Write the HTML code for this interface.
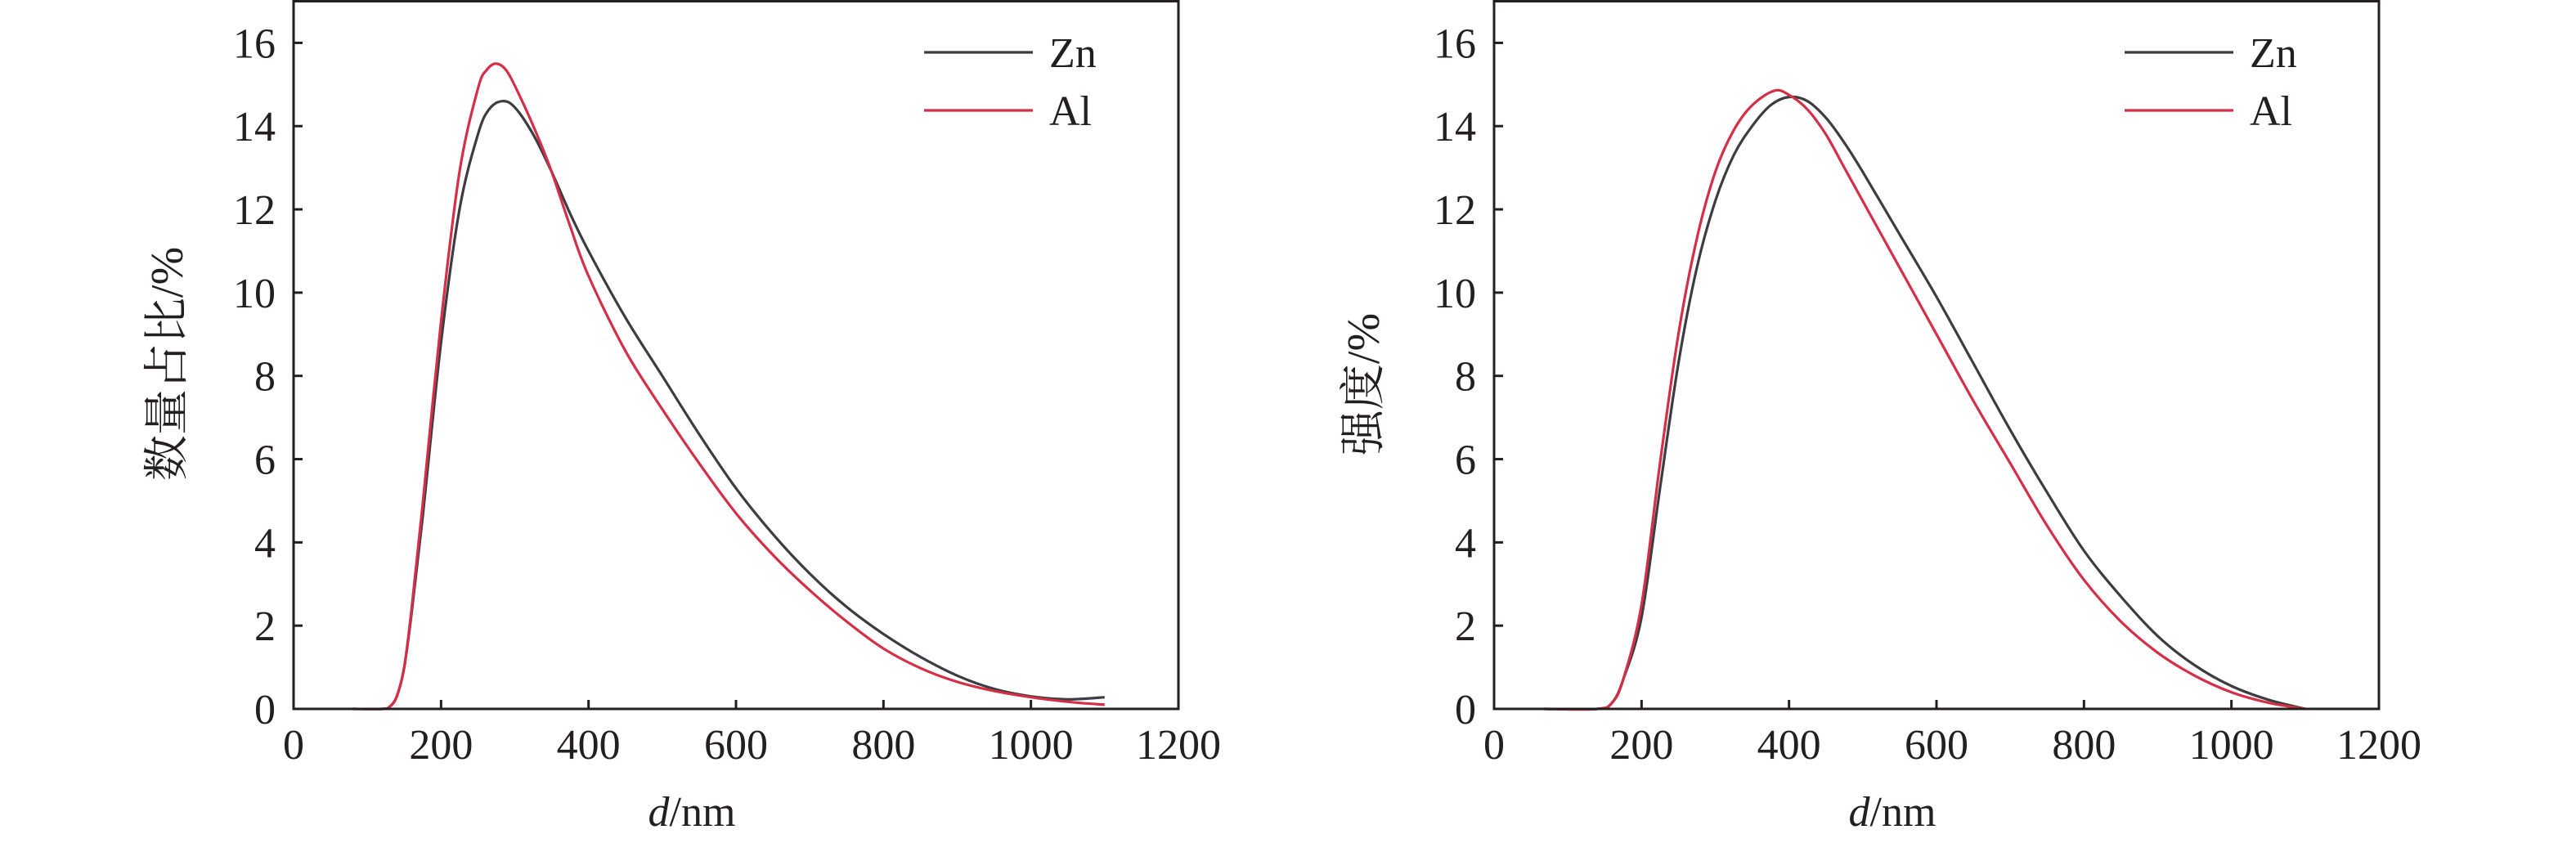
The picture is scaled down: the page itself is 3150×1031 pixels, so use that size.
<!DOCTYPE html>
<html><head><meta charset="utf-8"><style>
html,body{margin:0;padding:0;background:#fff;}
svg{display:block;}
text{font-family:"Liberation Serif","Noto Serif CJK SC",serif;fill:#231f20;}
</style></head><body>
<svg id="s" width="3150" height="1031" xmlns="http://www.w3.org/2000/svg"></svg>
<script>
const S=document.getElementById('s');
let h='';
const zn='#3c3c41', al='#d42f47';
function plot(x0,ytitle,ytx,yty,d1,d2){
  const W=1082, y0=867, top=1.5, sx=W/1200, sy=(y0-top)/17;
  const X=v=>x0+v*sx, Y=v=>y0-v*sy;
  function path(d,c){
    let p='';const n=d.length;
    for(let i=0;i<n;i++){
      if(i==0){p+='M'+X(d[0][0]).toFixed(1)+' '+Y(d[0][1]).toFixed(1);continue;}
      const a=d[Math.max(0,i-2)],b=d[i-1],c2=d[i],e=d[Math.min(n-1,i+1)];
      const A=[X(a[0]),Y(a[1])],B=[X(b[0]),Y(b[1])],C=[X(c2[0]),Y(c2[1])],E=[X(e[0]),Y(e[1])];
      const c1=[B[0]+(C[0]-A[0])/6,B[1]+(C[1]-A[1])/6],cc=[C[0]-(E[0]-B[0])/6,C[1]-(E[1]-B[1])/6];
      p+=`C${c1[0].toFixed(1)} ${c1[1].toFixed(1)} ${cc[0].toFixed(1)} ${cc[1].toFixed(1)} ${C[0].toFixed(1)} ${C[1].toFixed(1)}`;}
    h+=`<path d="${p}" fill="none" stroke="${c}" stroke-width="3.2" stroke-linejoin="round"/>`;
  }
  path(d1,zn);path(d2,al);
  h+=`<rect x="${x0}" y="${top}" width="${W}" height="${y0-top}" fill="none" stroke="#231f20" stroke-width="3"/>`;
  for(let v=0;v<=1200;v+=200){const x=X(v);
    if(v>0&&v<1200)h+=`<line x1="${x}" y1="${y0}" x2="${x}" y2="${y0-11}" stroke="#231f20" stroke-width="3"/>`;
    h+=`<text x="${x}" y="928" font-size="52" text-anchor="middle">${v}</text>`;}
  for(let v=0;v<=16;v+=2){const y=Y(v);
    if(v>0)h+=`<line x1="${x0}" y1="${y}" x2="${x0+11}" y2="${y}" stroke="#231f20" stroke-width="3"/>`;
    h+=`<text x="${x0-22}" y="${y+18}" font-size="52" text-anchor="end">${v}</text>`;}
  h+=`<text x="${x0+487}" y="1010" font-size="52" text-anchor="middle"><tspan font-style="italic">d</tspan>/nm</text>`;
  h+=`<text transform="translate(${ytx},${yty}) rotate(-90)" font-size="56" text-anchor="middle" dominant-baseline="middle">${ytitle}</text>`;
  const lx=x0+771;
  h+=`<line x1="${lx}" y1="64" x2="${lx+133}" y2="64" stroke="${zn}" stroke-width="3.2"/>`;
  h+=`<line x1="${lx}" y1="135" x2="${lx+133}" y2="135" stroke="${al}" stroke-width="3.2"/>`;
  h+=`<text x="${lx+153}" y="82" font-size="52">Zn</text><text x="${lx+153}" y="153" font-size="52">Al</text>`;
}
plot(359,'数量占比/%',210,445,
[[80,0],[120,0],[130,0.05],[140,0.3],[150,1.0],[160,2.3],[175,4.6],[200,8.8],[225,12.0],[250,13.8],[265,14.4],[283,14.6],[300,14.45],[325,13.8],[350,12.9],[375,11.9],[400,11.0],[450,9.4],[500,8.0],[550,6.6],[600,5.3],[650,4.2],[700,3.25],[750,2.45],[800,1.8],[850,1.25],[900,0.8],[950,0.48],[1000,0.3],[1050,0.23],[1100,0.28]],
[[80,0],[120,0],[130,0.05],[140,0.3],[150,1.0],[160,2.4],[175,4.9],[200,9.3],[225,12.9],[250,14.9],[262,15.35],[275,15.5],[290,15.3],[310,14.6],[330,13.8],[350,12.9],[375,11.6],[400,10.4],[450,8.6],[500,7.2],[550,5.9],[600,4.7],[650,3.7],[700,2.85],[750,2.1],[800,1.45],[850,0.98],[900,0.65],[950,0.43],[1000,0.28],[1050,0.17],[1100,0.1]]);
plot(1827,'强度/%',1673,470,
[[68,0],[140,0],[160,0.15],[175,0.7],[200,2.2],[225,5.3],[250,8.3],[275,10.6],[300,12.2],[325,13.3],[350,14.0],[375,14.5],[400,14.7],[425,14.6],[450,14.2],[475,13.6],[500,12.9],[550,11.4],[600,9.9],[650,8.3],[700,6.7],[750,5.2],[800,3.8],[850,2.7],[900,1.75],[950,1.05],[1000,0.55],[1050,0.22],[1100,0]],
[[68,0],[140,0],[160,0.15],[175,0.7],[200,2.5],[225,5.9],[250,9.0],[275,11.3],[300,12.9],[325,13.9],[350,14.5],[380,14.85],[400,14.75],[425,14.4],[450,13.8],[475,13.0],[500,12.2],[550,10.6],[600,9.0],[650,7.4],[700,5.9],[750,4.4],[800,3.1],[850,2.1],[900,1.35],[950,0.8],[1000,0.4],[1050,0.15],[1100,0]]);
S.innerHTML=h;
</script>
</body></html>
